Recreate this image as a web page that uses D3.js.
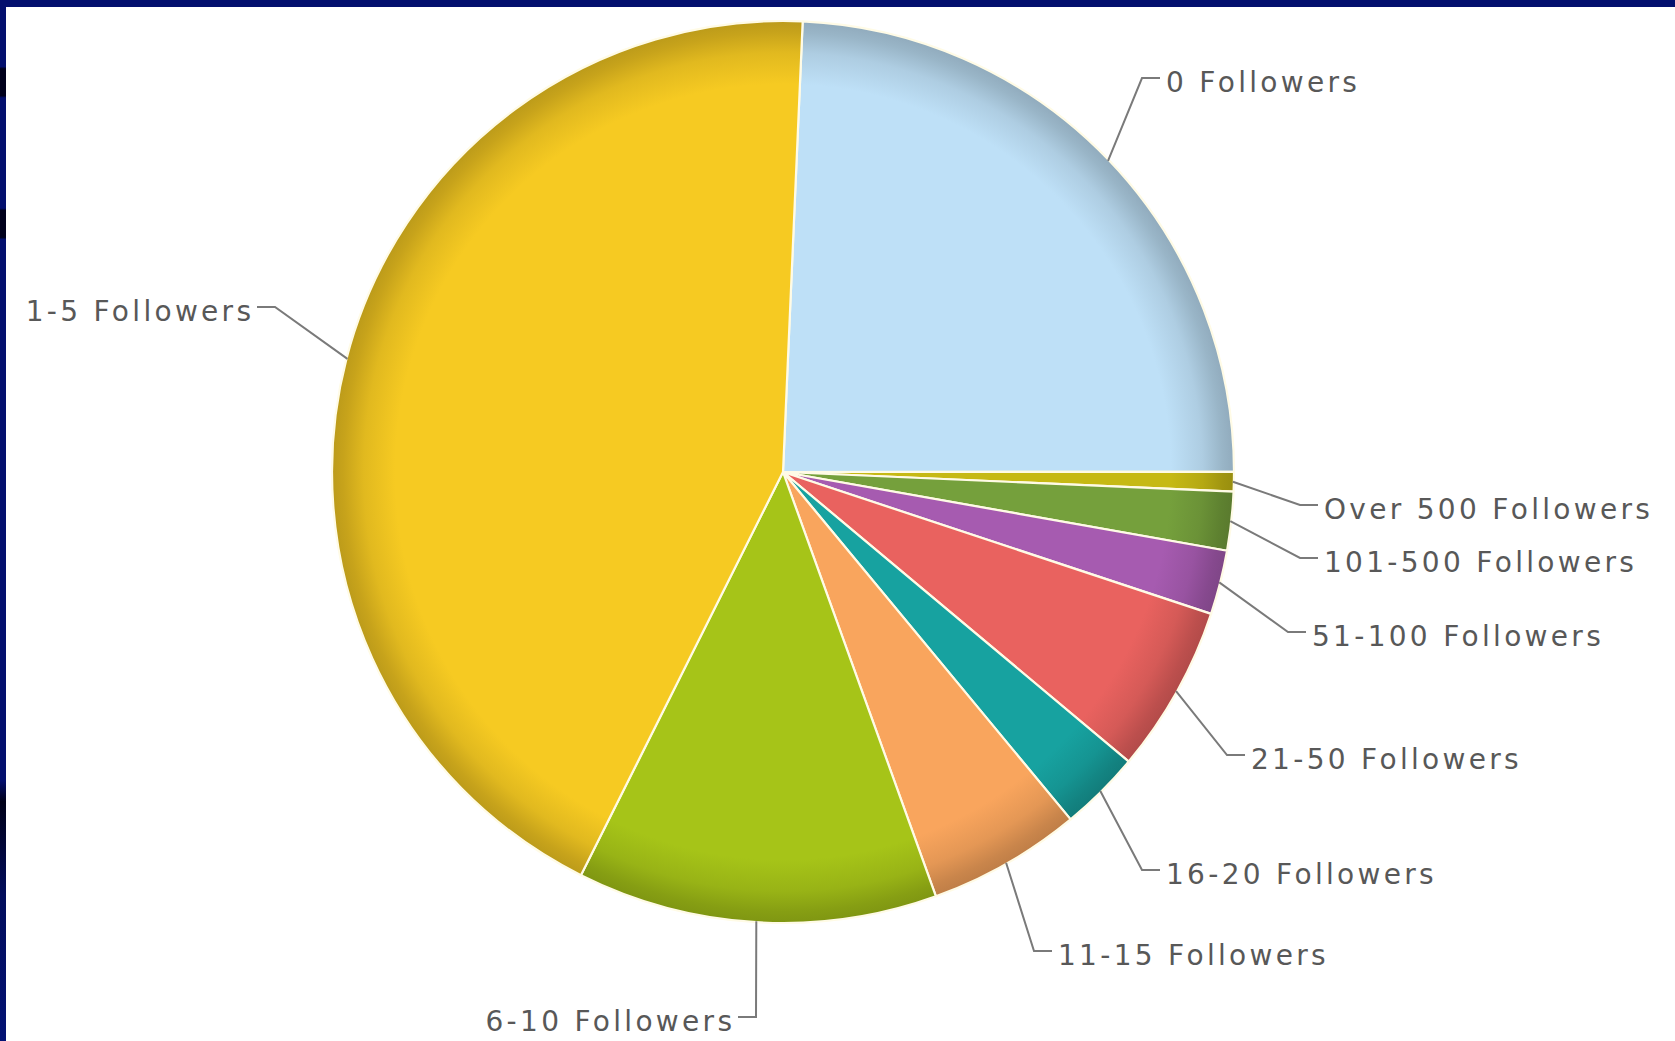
<!DOCTYPE html>
<html>
<head>
<meta charset="utf-8">
<script src="https://cdn.jsdelivr.net/npm/d3@7"></script>
<style>
  html, body { margin: 0; padding: 0; background: #ffffff; overflow: hidden; }
  svg { display: block; }
</style>
</head>
<body>
<svg id="chart" width="1675" height="1041"></svg>
<script>
// Follower-count buckets, in clockwise drawing order
const categories = [
  "0 Followers",
  "Over 500 Followers",
  "101-500 Followers",
  "51-100 Followers",
  "21-50 Followers",
  "16-20 Followers",
  "11-15 Followers",
  "6-10 Followers",
  "1-5 Followers"
];

// Share of accounts in each bucket (%)
const shares = [24.3, 0.7, 2.1, 2.3, 6.0, 2.9, 5.5, 12.9, 43.3];

// Slice fill colours
const sliceColors = [
  "#bee0f7", "#c6b914", "#75a03c", "#a65bb0", "#e9625f",
  "#17a2a0", "#f9a55d", "#a6c418", "#f6ca22"
];

// Leader-line elbow for each label, relative to the pie centre
const labelElbows = [
  [359, -394], [517, 33], [517, 86], [505, 160], [444, 283],
  [359, 398], [251, 479], [-27, 545], [-508, -165]
];

const W = 1675, H = 1041;
const cx = 783, cy = 472, R = 451;
const startDeg = 2.5;

const svg = d3.select("#chart");
const defs = svg.append("defs");

// page frame: navy strip along the top and the left edge
const leftGrad = defs.append("linearGradient")
  .attr("id", "leftStrip").attr("x1", 0).attr("y1", 0).attr("x2", 0).attr("y2", 1);
[
  [0, "#030f6e"], [0.064, "#030f6e"], [0.066, "#00001c"], [0.092, "#00001c"], [0.094, "#030f6e"],
  [0.200, "#030f6e"], [0.202, "#00001c"], [0.228, "#00001c"], [0.230, "#030f6e"],
  [0.75, "#030f6e"], [0.77, "#000018"], [0.86, "#020d5c"], [1, "#031274"]
].forEach(([o, c]) => leftGrad.append("stop").attr("offset", o).attr("stop-color", c));

svg.append("rect").attr("x", 0).attr("y", 0).attr("width", W).attr("height", H).attr("fill", "#ffffff");
svg.append("rect").attr("x", 0).attr("y", 0).attr("width", W).attr("height", 7).attr("fill", "#030f6e");
svg.append("rect").attr("x", 0).attr("y", 0).attr("width", 6).attr("height", H).attr("fill", "url(#leftStrip)");

// bevelled rim: each slice darkens towards the outer edge
sliceColors.forEach((c, i) => {
  const g = defs.append("radialGradient")
    .attr("id", "slice" + i)
    .attr("gradientUnits", "userSpaceOnUse")
    .attr("cx", 0).attr("cy", 0).attr("r", R);
  const base = d3.color(c);
  [
    [0, base], [0.86, base], [0.93, base.darker(0.25)],
    [0.975, base.darker(0.6)], [1, base.darker(0.75)]
  ].forEach(([o, col]) => g.append("stop").attr("offset", o).attr("stop-color", col.formatHex()));
});

const pie = d3.pie()
  .sort(null)
  .value(d => d)
  .startAngle(startDeg * Math.PI / 180)
  .endAngle(startDeg * Math.PI / 180 + 2 * Math.PI);

const arcs = pie(shares);
const arc = d3.arc().innerRadius(0).outerRadius(R);
const rimArc = d3.arc().innerRadius(R - 1).outerRadius(R - 1);

const gPie = svg.append("g").attr("transform", `translate(${cx},${cy})`);

gPie.selectAll("path.slice")
  .data(arcs)
  .join("path")
  .attr("class", "slice")
  .attr("d", arc)
  .attr("fill", (d, i) => `url(#slice${i})`)
  .attr("stroke", "#fffbe6")
  .attr("stroke-width", 2.2)
  .attr("stroke-linejoin", "round");

// labels with elbowed leader lines
const gLab = svg.append("g").attr("transform", `translate(${cx},${cy})`);
const stub = 18, gap = 6, spacing = 3.3;

arcs.forEach((d, i) => {
  const [sx, sy] = rimArc.centroid(d);
  const [ex, ey] = labelElbows[i];
  const dir = ex < 0 ? -1 : 1;
  const tx = ex + dir * stub;

  gLab.append("path")
    .attr("d", d3.line()([[sx, sy], [ex, ey], [tx, ey]]))
    .attr("fill", "none")
    .attr("stroke", "#7a7a7a")
    .attr("stroke-width", 2);

  gLab.append("text")
    .attr("x", tx + dir * gap + (dir < 0 ? spacing : 0))
    .attr("y", ey + 4)
    .attr("text-anchor", dir < 0 ? "end" : "start")
    .attr("dominant-baseline", "central")
    .attr("font-family", "'DejaVu Sans', Verdana, sans-serif")
    .attr("font-size", 28)
    .attr("letter-spacing", spacing)
    .attr("fill", "#585858")
    .text(categories[i]);
});
</script>
</body>
</html>
